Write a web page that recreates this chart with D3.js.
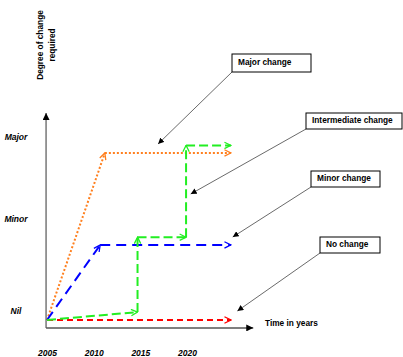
<!DOCTYPE html>
<html><head><meta charset="utf-8">
<script src="https://cdn.jsdelivr.net/npm/d3@7"></script>
<style>
html,body{margin:0;padding:0;background:#fff;}
text{font-family:"Liberation Sans",Arial,sans-serif;}
</style></head>
<body>
<svg id="c" width="403" height="357"></svg>
<script>
// ---- data ----
const yearTicks = [2005, 2010, 2015, 2020];
const levelLabels = ["Nil", "Minor", "Major"];
const levelValues = [4.4, 55.6, 101];
const noChange = [[2005, 0], [2024.7, 0]];
const minorChange = [[2005, 0], [2010.7, 41.7], [2024.7, 41.7]];
const majorChange = [[2005, 0], [2011.2, 92.8], [2024.7, 92.8]];
const intermediateChange = [[2005, 0], [2014.7, 4.4], [2014.7, 46], [2019.9, 46], [2019.9, 97], [2024.7, 97]];
const annotationLabels = ["Major change", "Intermediate change", "Minor change", "No change"];
const annotationTargets = [[2016.9, 97.8], [2020.4, 70], [2024.9, 46.1], [2025.4, 5]];
const xAxisExtent = [2005 - 0.1, 2027.1];
const yAxisExtent = [-4.4, 115];

// ---- layout ----
const svg = d3.select("#c");
const x = d3.scaleLinear().domain([2005, 2020]).range([47, 187]);
const y = d3.scaleLinear().domain([0, 100]).range([320, 140]);

const defs = svg.append("defs");
function chevron(id, color) {
  defs.append("marker").attr("id", id)
    .attr("markerUnits", "userSpaceOnUse")
    .attr("viewBox", "0 0 10 10").attr("refX", 9).attr("refY", 5)
    .attr("markerWidth", 8).attr("markerHeight", 8).attr("orient", "auto")
    .append("path").attr("d", "M1,1 L9,5 L1,9")
    .attr("fill", "none").attr("stroke", color).attr("stroke-width", 1.6)
    .attr("stroke-dasharray", "none");
}
function solidHead(id, color, size) {
  defs.append("marker").attr("id", id)
    .attr("markerUnits", "userSpaceOnUse")
    .attr("viewBox", "0 0 10 10").attr("refX", 10).attr("refY", 5)
    .attr("markerWidth", size).attr("markerHeight", size).attr("orient", "auto")
    .append("path").attr("d", "M0,0 L10,5 L0,10 Z").attr("fill", color);
}
chevron("hOrange", "#ff7f1e");
chevron("hBlue", "#0000ff");
chevron("hGreen", "#22ee22");
chevron("hRed", "#ff0000");
solidHead("hAxis", "#000", 7);
solidHead("hLead", "#000", 6);

// axes
const axisG = svg.append("g");
axisG.append("line")
  .attr("x1", x(xAxisExtent[0])).attr("x2", x(xAxisExtent[0]))
  .attr("y1", y(yAxisExtent[0])).attr("y2", y(yAxisExtent[1]))
  .attr("stroke", "#777").attr("stroke-width", 1.5).attr("marker-end", "url(#hAxis)");
axisG.append("line")
  .attr("x1", x(xAxisExtent[0])).attr("x2", x(xAxisExtent[1]))
  .attr("y1", y(yAxisExtent[0])).attr("y2", y(yAxisExtent[0]))
  .attr("stroke", "#555").attr("stroke-width", 1.5).attr("marker-end", "url(#hAxis)");

// x tick labels via d3 axis
const xAx = d3.axisBottom(x).tickValues(yearTicks).tickFormat(d3.format("d")).tickSize(0).tickPadding(0);
const gx = svg.append("g").attr("transform", "translate(0,350)").call(xAx);
gx.select(".domain").remove();
gx.selectAll("text").attr("font-size", 8.5).attr("font-weight", "bold").attr("font-style", "italic")
  .attr("fill", "#000").attr("font-family", "'Liberation Sans',Arial,sans-serif").attr("dy", "0.7em");

// y level labels
svg.append("g").selectAll("text").data(levelLabels).join("text")
  .attr("x", 16).attr("y", (d, i) => y(levelValues[i]))
  .attr("text-anchor", "middle").attr("dominant-baseline", "middle")
  .attr("font-size", 8.5).attr("font-weight", "bold").attr("font-style", "italic")
  .text(d => d);

// axis titles
const yt = svg.append("text").attr("transform", "translate(43,45) rotate(-90)")
  .attr("text-anchor", "middle").attr("font-size", 8.3).attr("font-weight", "bold");
yt.append("tspan").attr("x", 0).attr("dy", 0).text("Degree of change");
yt.append("tspan").attr("x", 0).attr("dy", 12).text("required");
svg.append("text").attr("x", 265).attr("y", 326).attr("font-size", 8.3).attr("font-weight", "bold")
  .text("Time in years");

// series: each segment ends in an arrowhead
const series = [
  { pts: majorChange, color: "#ff7f1e", dash: "2,2", mk: "hOrange" },
  { pts: minorChange, color: "#0000ff", dash: "10,6", mk: "hBlue" },
  { pts: noChange, color: "#ff0000", dash: "6,4", mk: "hRed" },
  { pts: intermediateChange, color: "#22ee22", dash: "9,4", mk: "hGreen" }
];
series.forEach(s => {
  const segs = d3.pairs(s.pts);
  svg.append("g").selectAll("line").data(segs).join("line")
    .attr("x1", d => x(d[0][0])).attr("y1", d => y(d[0][1]))
    .attr("x2", d => x(d[1][0])).attr("y2", d => y(d[1][1]))
    .attr("stroke", s.color).attr("stroke-width", 2)
    .attr("stroke-dasharray", s.dash).attr("marker-end", "url(#" + s.mk + ")");
});

// annotation boxes
const boxes = [
  { x: 232, y: 54, w: 79, h: 18 },
  { x: 306, y: 113, w: 96, h: 16 },
  { x: 311, y: 171, w: 69, h: 16 },
  { x: 320, y: 237, w: 60, h: 16 }
];
annotationLabels.forEach((lab, i) => {
  const b = boxes[i], t = annotationTargets[i];
  svg.append("line").attr("x1", b.x).attr("y1", b.y + b.h)
    .attr("x2", x(t[0])).attr("y2", y(t[1]))
    .attr("stroke", "#444").attr("stroke-width", 0.8).attr("marker-end", "url(#hLead)");
  svg.append("rect").attr("x", b.x).attr("y", b.y).attr("width", b.w).attr("height", b.h)
    .attr("fill", "#fff").attr("stroke", "#000").attr("stroke-width", 1);
  svg.append("text").attr("x", b.x + 6).attr("y", b.y + b.h / 2)
    .attr("dominant-baseline", "middle").attr("font-size", 8.3).attr("font-weight", "bold")
    .text(lab);
});
</script>
</body></html>
